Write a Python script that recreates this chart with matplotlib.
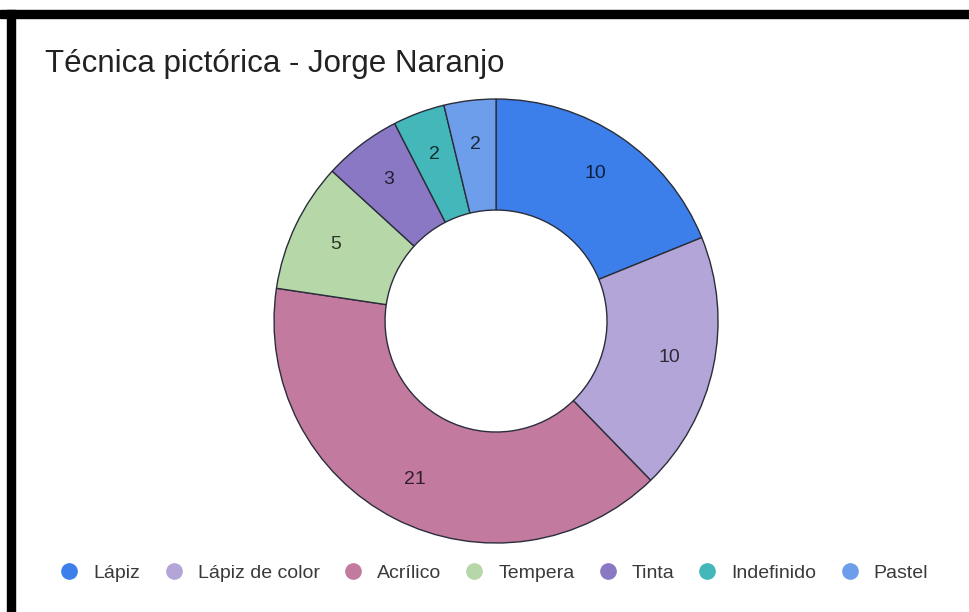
import numpy as np
import matplotlib.pyplot as plt
from matplotlib.lines import Line2D
from matplotlib.colors import to_rgb

categorias = ['Lápiz', 'Lápiz de color', 'Acrílico', 'Tempera', 'Tinta', 'Indefinido', 'Pastel']
valores = [10, 10, 21, 5, 3, 2, 2]
cores = ['#3d7fea', '#b3a5d8', '#c37a9f', '#b6d7a8', '#8b78c4', '#43b7b9', '#6d9eeb']

plt.rcParams['font.family'] = ['Liberation Sans', 'DejaVu Sans']

fig = plt.figure(figsize=(9.69, 6.12), dpi=100)
ax = fig.add_axes([0.2828, 0.1127, 0.4582, 0.7255])

wedges, _ = ax.pie(valores, colors=cores, startangle=90, counterclock=False, radius=1,
                   wedgeprops=dict(width=0.5, edgecolor='#2a2d3a', linewidth=1))

# rótulos com os valores dentro das fatias
total = sum(valores)
ang0 = 90
for v, c in zip(valores, cores):
    ang = ang0 - v / total * 180
    ang0 -= v / total * 360
    r = 0.80
    escuro = tuple(np.array(to_rgb(c)) * 0.25)
    ax.text(r * np.cos(np.radians(ang)), r * np.sin(np.radians(ang)), str(v),
            ha='center', va='center', fontsize=14, color=escuro)
ax.set_xlim(-1, 1)
ax.set_ylim(-1, 1)
ax.set_aspect('equal')

fig.text(45 / 969, 1 - 72 / 612, 'Técnica pictórica - Jorge Naranjo', fontsize=22.5,
         ha='left', va='baseline', color='#222222')

handles = [Line2D([], [], marker='o', linestyle='', markersize=11, color=c) for c in cores]
fig.legend(handles, categorias, loc='center', bbox_to_anchor=(494 / 969, 1 - 573 / 612), ncol=7,
           frameon=False, fontsize=14, handlelength=1.0, handletextpad=0.74,
           columnspacing=1.2, labelcolor='#3a3a3a')

# moldura preta (superior e esquerda)
fig.add_artist(plt.Rectangle((0, 1 - 18 / 612), 1, 8 / 612, transform=fig.transFigure,
                             color='black'))
fig.add_artist(plt.Rectangle((7 / 969, 0), 8 / 969, 1 - 10 / 612, transform=fig.transFigure,
                             color='black'))

plt.savefig('out.png', dpi=100)
